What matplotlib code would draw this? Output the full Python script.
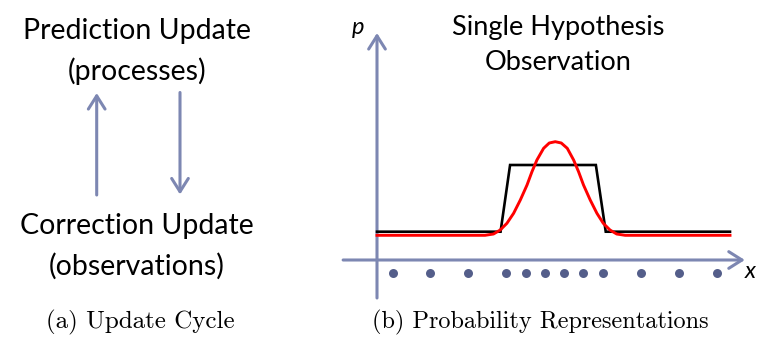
import matplotlib
matplotlib.use("Agg")
import matplotlib.pyplot as plt

# ---- data ----
left_texts = ["Prediction Update", "(processes)", "Correction Update", "(observations)"]
right_title = ["Single Hypothesis", "Observation"]
captions = ["(a) Update Cycle", "(b) Probability Representations"]

# black (uniform-like) observation
black_x = [0.0, 3.50, 3.77, 6.20, 6.48, 10.0]
black_p = [0.283, 0.283, 0.95, 0.95, 0.283, 0.283]

# red (gaussian-like) observation
red_x = [0.0, 3.06, 3.30, 3.49, 3.68, 3.87, 4.06, 4.25, 4.39, 4.53, 4.72, 4.88,
         5.05, 5.22, 5.39, 5.57, 5.71, 5.85, 6.04, 6.23, 6.41, 6.60, 6.79, 7.03, 10.0]
red_p = [0.247, 0.247, 0.26, 0.30, 0.367, 0.467, 0.60, 0.75, 0.883, 1.00, 1.117, 1.17,
         1.183, 1.17, 1.117, 1.00, 0.883, 0.75, 0.60, 0.467, 0.367, 0.30, 0.26, 0.247, 0.247]

# sample (particle) positions
dots_x = [0.44, 1.50, 2.57, 3.65, 4.22, 4.76, 5.31, 5.84, 6.39, 7.48, 8.56, 9.62]
dots_p = [-0.127] * len(dots_x)

AX_COL = "#7d87b2"
DOT_COL = "#545e8a"
SANS = ["Lato", "DejaVu Sans"]

W, H = 757, 338
fig = plt.figure(figsize=(W / 100, H / 100), dpi=100)

# background axes in pixel coordinates
bg = fig.add_axes([0, 0, 1, 1])
bg.set_xlim(0, W)
bg.set_ylim(H, 0)
bg.axis("off")

fs_main = 20.5
bg.text(137, 31, left_texts[0], ha="center", va="center", fontsize=fs_main, family=SANS)
bg.text(137, 71, left_texts[1], ha="center", va="center", fontsize=fs_main, family=SANS)
bg.text(137, 226, left_texts[2], ha="center", va="center", fontsize=fs_main, family=SANS)
bg.text(137, 266, left_texts[3], ha="center", va="center", fontsize=fs_main, family=SANS)

arrow_style = "->,head_length=0.95,head_width=0.6"
ALW = 2.2
bg.annotate("", xy=(96.7, 93), xytext=(96.7, 195),
            arrowprops=dict(arrowstyle=arrow_style, lw=ALW, color=AX_COL,
                            shrinkA=0, shrinkB=0, mutation_scale=10))
bg.annotate("", xy=(180, 194.5), xytext=(180, 92.5),
            arrowprops=dict(arrowstyle=arrow_style, lw=ALW, color=AX_COL,
                            shrinkA=0, shrinkB=0, mutation_scale=10))

bg.text(558, 28, right_title[0], ha="center", va="center", fontsize=19.5, family=SANS)
bg.text(558, 63, right_title[1], ha="center", va="center", fontsize=19.5, family=SANS)

bg.text(140, 322, captions[0], ha="center", va="center", fontsize=18, family="cmr10")
bg.text(540, 322, captions[1], ha="center", va="center", fontsize=17.5, family="cmr10")

# right panel axes: origin at pixel (377, 260), 35.3 px per x unit, 100 px per p unit
x0, y0, sx, sy = 377, 260, 35.3, 100.0
left_px, right_px = 330, 757
ax = fig.add_axes([left_px / W, 0, (right_px - left_px) / W, 1])
ax.set_xlim((left_px - x0) / sx, (right_px - x0) / sx)
ax.set_ylim((y0 - H) / sy, y0 / sy)
ax.axis("off")
ax.patch.set_alpha(0)

ax.annotate("", xy=(0, 2.27), xytext=(0, -0.38),
            arrowprops=dict(arrowstyle=arrow_style, lw=ALW, color=AX_COL,
                            shrinkA=0, shrinkB=0, mutation_scale=10))
ax.annotate("", xy=(10.42, 0), xytext=(-0.96, 0),
            arrowprops=dict(arrowstyle=arrow_style, lw=ALW, color=AX_COL,
                            shrinkA=0, shrinkB=0, mutation_scale=10))

ax.plot(black_x, black_p, color="black", lw=1.9, solid_joinstyle="miter", zorder=3)
ax.plot(red_x, red_p, color="#ff0000", lw=2.1, zorder=4)
ax.scatter(dots_x, dots_p, s=42, color=DOT_COL, zorder=5, linewidths=0)

bg.text(358, 28, "p", ha="center", va="center", fontsize=17, family=SANS, style="italic")
bg.text(750, 271, "x", ha="center", va="center", fontsize=17, family=SANS, style="italic")

fig.savefig("out.png", dpi=100)
